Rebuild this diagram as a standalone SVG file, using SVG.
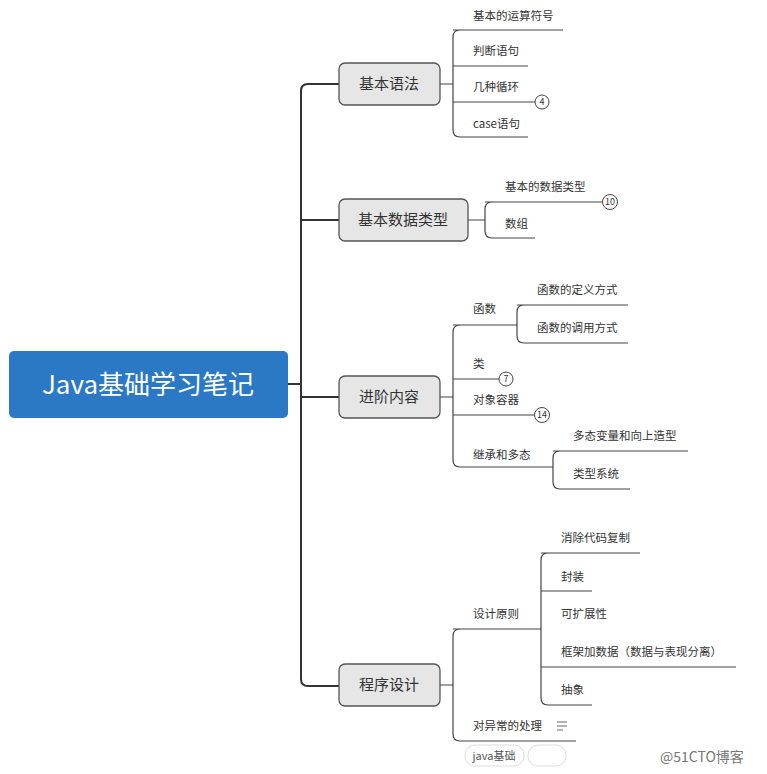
<svg xmlns="http://www.w3.org/2000/svg" width="767" height="774" viewBox="0 0 767 774">
<style>
text{font-family:"Noto Sans CJK SC","Liberation Sans",sans-serif;fill:#333}
.t{font-size:11.5px}
.b{font-size:15px;text-anchor:middle}
.box{fill:#e6e6e6;stroke:#555;stroke-width:1.3}
.l{fill:none;stroke:#444;stroke-width:1.2}
.m{fill:none;stroke:#333;stroke-width:2}
.c{fill:#fff;stroke:#444;stroke-width:1}
.n{font-size:9px;text-anchor:middle}
</style>
<rect width="767" height="774" fill="#fff"/>
<g id="connectors">
<path class="m" d="M288 384H301M339 84H308Q301 84 301 91V679Q301 686 308 686H339M301 220H339M301 397H339"/>
<path class="l" d="M440 84H453M460 30Q453 30 453 37V130Q453 137 460 137H528M453 30H563M453 66H528M453 102H535"/>
<path class="l" d="M468 220H485M492 202Q485 202 485 209V231Q485 238 492 238H535M485 202H603"/>
<path class="l" d="M440 397H453M460 325Q453 325 453 332V460Q453 467 460 467H553M453 325H517M524 305Q517 305 517 312V336Q517 343 524 343H628M517 305H628M453 379H499M453 415H535M560 451Q553 451 553 458V482Q553 489 560 489H630M553 451H688"/>
<path class="l" d="M440 685H453M460 629Q453 629 453 636V734Q453 741 460 741H576M453 629H541M548 553Q541 553 541 560V698Q541 705 548 705H592M541 553H640M541 591H592M541 667H736"/>
</g>
<g id="root"><rect x="9" y="351" width="279" height="67" rx="5" fill="#2b78c5"/><text x="148" y="394" style="font-size:26px;fill:#fff;text-anchor:middle">Java基础学习笔记</text></g>
<g id="b1"><rect class="box" x="339" y="63" width="101" height="42" rx="6"/><text class="b" x="389" y="89">基本语法</text></g>
<g id="b2"><rect class="box" x="339" y="199" width="129" height="42" rx="6"/><text class="b" x="403" y="225">基本数据类型</text></g>
<g id="b3"><rect class="box" x="339" y="376" width="101" height="42" rx="6"/><text class="b" x="389" y="402">进阶内容</text></g>
<g id="b4"><rect class="box" x="339" y="664" width="101" height="42" rx="6"/><text class="b" x="389" y="690">程序设计</text></g>
<g id="leaves">
<text class="t" x="473" y="20">基本的运算符号</text>
<text class="t" x="473" y="55">判断语句</text>
<text class="t" x="473" y="91">几种循环</text>
<circle class="c" cx="542" cy="102" r="7"/><text class="n" x="542" y="105">4</text>
<text class="t" x="473" y="128">case语句</text>
<text class="t" x="505" y="191">基本的数据类型</text>
<circle class="c" cx="610" cy="202" r="7.5"/><text class="n" x="610" y="205">10</text>
<text class="t" x="505" y="228">数组</text>
<text class="t" x="473" y="313">函数</text>
<text class="t" x="537" y="294">函数的定义方式</text>
<text class="t" x="537" y="332">函数的调用方式</text>
<text class="t" x="473" y="368">类</text>
<circle class="c" cx="506" cy="379" r="7"/><text class="n" x="506" y="382">7</text>
<text class="t" x="473" y="404">对象容器</text>
<circle class="c" cx="542" cy="415" r="7.5"/><text class="n" x="542" y="418">14</text>
<text class="t" x="473" y="459">继承和多态</text>
<text class="t" x="573" y="440">多态变量和向上造型</text>
<text class="t" x="573" y="478">类型系统</text>
<text class="t" x="473" y="618">设计原则</text>
<text class="t" x="561" y="542">消除代码复制</text>
<text class="t" x="561" y="581">封装</text>
<text class="t" x="561" y="618">可扩展性</text>
<text class="t" x="561" y="656">框架加数据（数据与表现分离）</text>
<text class="t" x="561" y="694">抽象</text>
<text class="t" x="473" y="730">对异常的处理</text>
<path d="M557 722H567M557 726H567M557 730H563" stroke="#666" stroke-width="1"/>
</g>
<g id="footer">
<rect x="465" y="745" width="59" height="21" rx="10" fill="#fff" stroke="#ddd"/>
<text x="494" y="760" style="font-size:11px;text-anchor:middle;fill:#555">java基础</text>
<rect x="528" y="745" width="38" height="21" rx="10" fill="#fff" stroke="#ddd"/>
<text x="660" y="762" style="font-size:14px;fill:#777">@51CTO博客</text>
</g>
</svg>
